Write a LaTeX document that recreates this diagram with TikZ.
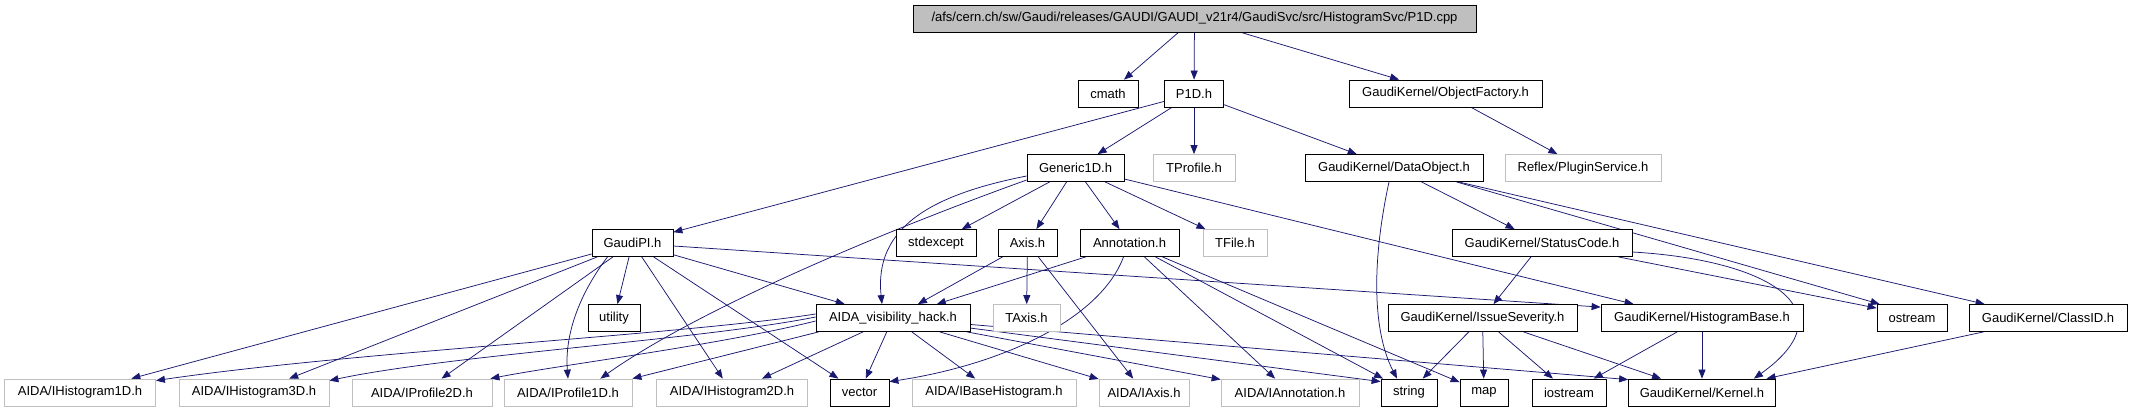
\documentclass[tikz,border=0pt]{standalone}
\usepackage{fontspec}
\setmainfont{Liberation Sans}
\usetikzlibrary{arrows.meta,calc}
\definecolor{edgec}{HTML}{191970}
\definecolor{grayc}{HTML}{BFBFBF}
\pgfdeclarelayer{bg}
\pgfsetlayers{bg,main}
\tikzset{
  box/.style={draw=black, line width=0.8pt, fill=white, font=\fontsize{13}{15}\selectfont, inner xsep=3pt, inner ysep=0pt, minimum height=27pt},
  gbox/.style={box, draw=grayc},
  rbox/.style={box, fill=grayc},
  edge/.style={draw=edgec, line width=0.75pt, -{Triangle[length=9pt,width=7pt]}},
}
\begin{document}
\begin{tikzpicture}[x=1pt,y=-1pt]
\useasboundingbox (0,0) rectangle (2132,410);
% row 1
\node[rbox, minimum width=563pt] (root) at (1194.5,18.5) {/afs/cern.ch/sw/Gaudi/releases/GAUDI/GAUDI\_v21r4/GaudiSvc/src/HistogramSvc/P1D.cpp};
% row 2
\node[box, minimum width=60pt] (cmath) at (1108,93.5) {cmath};
\node[box, minimum width=59pt] (p1d) at (1194,93.5) {P1D.h};
\node[box, minimum width=193pt] (objf) at (1445.5,93.5) {GaudiKernel/ObjectFactory.h};
% row 3
\node[box, minimum width=97pt] (gen) at (1075.5,168) {Generic1D.h};
\node[gbox, minimum width=82pt] (tprof) at (1194,168) {TProfile.h};
\node[box, minimum width=178pt] (dobj) at (1394,168) {GaudiKernel/DataObject.h};
\node[gbox, minimum width=156pt] (refl) at (1583,168) {Reflex/PluginService.h};
% row 4
\node[box, minimum width=81pt] (gpi) at (632.5,243) {GaudiPI.h};
\node[box, minimum width=80pt] (stdex) at (936,243) {stdexcept};
\node[box, minimum width=59pt] (axis) at (1027.5,243) {Axis.h};
\node[box, minimum width=99pt] (ann) at (1129.5,243) {Annotation.h};
\node[gbox, minimum width=64pt] (tfile) at (1235,243) {TFile.h};
\node[box, minimum width=180pt] (sc) at (1542,243) {GaudiKernel/StatusCode.h};
% row 5
\node[box, minimum width=52pt] (util) at (614,318) {utility};
\node[box, minimum width=154pt] (vis) at (893,318) {AIDA\_visibility\_hack.h};
\node[gbox, minimum width=67pt] (taxis) at (1026.5,318) {TAxis.h};
\node[box, minimum width=189pt] (isev) at (1482.5,318) {GaudiKernel/IssueSeverity.h};
\node[box, minimum width=202pt] (hb) at (1702,318) {GaudiKernel/HistogramBase.h};
\node[box, minimum width=70pt] (ostr) at (1912,318) {ostream};
\node[box, minimum width=158pt] (cid) at (2048,318) {GaudiKernel/ClassID.h};
% row 6
\node[gbox, minimum width=151pt] (h1) at (80,392.5) {AIDA/IHistogram1D.h};
\node[gbox, minimum width=150pt] (h3) at (254,392.5) {AIDA/IHistogram3D.h};
\node[gbox, minimum width=140pt] (p2) at (422,392.5) {AIDA/IProfile2D.h};
\node[gbox, minimum width=128pt] (p1) at (568,392.5) {AIDA/IProfile1D.h};
\node[gbox, minimum width=151pt] (h2) at (732,392.5) {AIDA/IHistogram2D.h};
\node[box, minimum width=59pt] (vec) at (859.5,392.5) {vector};
\node[gbox, minimum width=164pt] (bh) at (994,392.5) {AIDA/IBaseHistogram.h};
\node[gbox, minimum width=90pt] (iaxis) at (1144,392.5) {AIDA/IAxis.h};
\node[gbox, minimum width=138pt] (iann) at (1290,392.5) {AIDA/IAnnotation.h};
\node[box, minimum width=56pt] (str) at (1409,392.5) {string};
\node[box, minimum width=48pt] (map) at (1484,392.5) {map};
\node[box, minimum width=74pt] (ios) at (1569,392.5) {iostream};
\node[box, minimum width=147pt] (kern) at (1702,392.5) {GaudiKernel/Kernel.h};

\begin{pgfonlayer}{bg}
% root
\draw[edge] (root) -- (cmath);
\draw[edge] (root) -- (p1d);
\draw[edge] (root) -- (objf);
\draw[edge] (objf) -- (refl);
% P1D.h
\draw[edge] (p1d) -- (gpi);
\draw[edge] (p1d) -- (gen);
\draw[edge] (p1d) -- (tprof);
\draw[edge] (p1d) -- (dobj);
% Generic1D.h
\draw[edge] (gen) -- (stdex);
\draw[edge] (gen) -- (axis);
\draw[edge] (gen) -- (ann);
\draw[edge] (gen) -- (tfile);
\draw[edge] ($(gen.west)+(0,8)$) .. controls (930,195) and (874,228) .. ($(vis.north)+(-11,0)$);
\draw[edge] ($(gen.west)+(0,12)$) .. controls (860,240) and (690,315) .. ($(p1.north east)+(-32,0)$);
\draw[edge] ($(gen.east)+(0,11)$) -- ($(hb.north west)+(33,0)$);
% DataObject
\draw[edge] ($(dobj.south)+(-5,0)$) .. controls (1372,260) and (1372,330) .. ($(str.north)+(-12,0)$);
\draw[edge] (dobj) -- (sc);
\draw[edge] ($(dobj.south east)+(-27,0)$) -- ($(ostr.north west)+(3,0)$);
\draw[edge] ($(dobj.south east)+(-25,0)$) -- ($(cid.north west)+(16,0)$);
% GaudiPI.h
\draw[edge] (gpi) -- (h1);
\draw[edge] (gpi) -- (h3);
\draw[edge] (gpi) -- (p2);
\draw[edge] ($(gpi.south)+(-25,0)$) .. controls (575,300) and (565,340) .. (p1.north);
\draw[edge] (gpi) -- (util);
\draw[edge] (gpi) -- (h2);
\draw[edge] (gpi) -- (vec);
\draw[edge] (gpi) -- (vis);
\draw[edge] ($(gpi.east)+(0,3)$) -- ($(hb.north west)+(0,3)$);
% Axis.h
\draw[edge] (axis) -- (vis);
\draw[edge] (axis) -- (taxis);
\draw[edge] (axis) -- (iaxis);
% Annotation.h
\draw[edge] (ann) -- (vis);
\draw[edge] ($(ann.south)+(-6,0)$) .. controls (1100,320) and (1000,365) .. (vec.20);
\draw[edge] (ann) -- (iann);
\draw[edge] (ann) -- (str);
\draw[edge] (ann) -- (map);
% StatusCode
\draw[edge] (sc) -- (isev);
\draw[edge] ($(sc.south east)+(-14,0)$) -- ($(ostr.north west)+(0,4)$);
\draw[edge] ($(sc.east)+(0,9)$) .. controls (1770,260) and (1850,310) .. ($(kern.north east)+(-22,0)$);
% AIDA_visibility_hack.h
\draw[edge] ($(vis.west)+(0,-4)$) .. controls (680,335) and (350,352) .. ($(h1.north east)+(0,2)$);
\draw[edge] ($(vis.west)+(0,-1)$) .. controls (700,340) and (450,355) .. ($(h3.north east)+(0,2)$);
\draw[edge] ($(vis.west)+(0,3)$) .. controls (720,345) and (560,365) .. ($(p2.north east)+(-2,0)$);
\draw[edge] ($(vis.south west)+(3,0)$) -- ($(p1.north east)+(0,0)$);
\draw[edge] (vis) -- (h2);
\draw[edge] (vis) -- (vec);
\draw[edge] (vis) -- (bh);
\draw[edge] (vis) -- (iaxis);
\draw[edge] (vis) -- (iann);
\draw[edge] (vis) -- ($(str.north west)+(0,3)$);
\draw[edge] (vis) -- ($(kern.north west)+(0,1)$);
% IssueSeverity
\draw[edge] (isev) -- (str);
\draw[edge] (isev) -- (map);
\draw[edge] (isev) -- (ios);
\draw[edge] (isev) -- (kern);
% HistogramBase
\draw[edge] (hb) -- (ios);
\draw[edge] (hb) -- (kern);
% ClassID
\draw[edge] (cid) -- (kern);
\end{pgfonlayer}
\end{tikzpicture}
\end{document}
